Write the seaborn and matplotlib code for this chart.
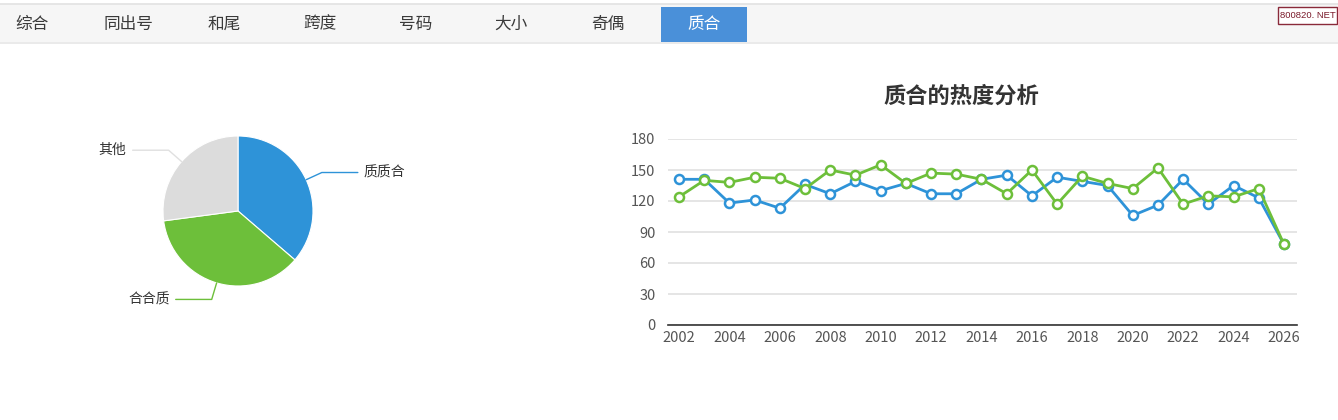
import numpy as np
import pandas as pd
import matplotlib
matplotlib.use("Agg")
import matplotlib.pyplot as plt
import seaborn as sns
from matplotlib.patches import Rectangle

sns.set_style("white")
plt.rcParams['font.family'] = ['Noto Sans CJK SC', 'DejaVu Sans']

# tabs across the top
tab_labels = ["综合", "同出号", "和尾", "跨度", "号码", "大小", "奇偶", "质合"]
active_tab = "质合"

# pie data (share in percent)
pie_labels = ["质质合", "合合质", "其他"]
pie_values = [36.3, 36.6, 27.1]

# line chart data
years = list(range(2002, 2027))
blue_vals = [141, 141, 118, 121, 113, 136, 127, 139, 130, 137, 127, 127, 141,
             145, 125, 143, 139, 135, 106, 116, 141, 117, 135, 123, 78]
green_vals = [124, 140, 138, 143, 142, 132, 150, 145, 155, 137, 147, 146, 141,
              127, 150, 117, 144, 137, 132, 152, 117, 125, 124, 132, 78]
y_ticks = [0, 30, 60, 90, 120, 150, 180]
x_ticks = list(range(2002, 2027, 2))
chart_title = "质合的热度分析"

BLUE = "#2e93d8"
GREEN = "#6dbf3a"
GREY = "#dcdcdc"

W, H = 1338, 420
fig = plt.figure(figsize=(W / 100, H / 100), dpi=100)


def fx(px):
    return px / W


def fy(py):
    return 1 - py / H


# tab bar
fig.patches.append(Rectangle((0, fy(42)), 1, fy(4) - fy(42), transform=fig.transFigure,
                             facecolor="#f6f6f6", edgecolor="none", zorder=0))
fig.lines.append(plt.Line2D([0, 1], [fy(3.5), fy(3.5)], transform=fig.transFigure,
                            color="#e2e2e2", lw=1.2))
fig.lines.append(plt.Line2D([0, 1], [fy(42.5), fy(42.5)], transform=fig.transFigure,
                            color="#e6e6e6", lw=1.2))
tab_x = [32, 128, 224, 320, 416, 511, 608, 704]
for lab, x in zip(tab_labels, tab_x):
    if lab == active_tab:
        fig.patches.append(Rectangle((fx(661), fy(42)), fx(747) - fx(661), fy(7) - fy(42),
                                     transform=fig.transFigure, facecolor="#4a90d9",
                                     edgecolor="none", zorder=1))
        fig.text(fx(x), fy(24), lab, color="white", fontsize=12, ha="center", va="center", zorder=2)
    else:
        fig.text(fx(x), fy(24), lab, color="#3a3a3a", fontsize=12, ha="center", va="center")

# watermark box
fig.patches.append(Rectangle((fx(1278), fy(24)), fx(1337) - fx(1278), fy(7) - fy(24),
                             transform=fig.transFigure, facecolor="white",
                             edgecolor="#8a2a3a", lw=1, zorder=3))
fig.text(fx(1307.5), fy(15.5), "800820. NET", color="#7a1a2a", fontsize=6.8, ha="center",
         va="center", family=["Liberation Sans", "DejaVu Sans"], zorder=4)

# pie
r_px = 75
cx, cy = 238, 211
pax = fig.add_axes([fx(cx - r_px), fy(cy + r_px), fx(2 * r_px), fy(cy - r_px) - fy(cy + r_px)])
wedges, _ = pax.pie(pie_values, colors=[BLUE, GREEN, GREY], startangle=90, counterclock=False,
                    radius=1, wedgeprops=dict(edgecolor="white", linewidth=0.8))
pax.set_xlim(-1, 1)
pax.set_ylim(-1, 1)
pax.set_aspect("equal")
pax.axis("off")

line_cols = [BLUE, GREEN, "#e0e0e0"]
for w, lab, lc in zip(wedges, pie_labels, line_cols):
    ang = np.deg2rad((w.theta1 + w.theta2) / 2)
    x0, y0 = np.cos(ang), np.sin(ang)
    x1, y1 = 1.23 * x0, 1.23 * y0
    side = 1 if x0 >= 0 else -1
    x2 = x1 + side * 0.48
    pax.plot([x0, x1, x2], [y0, y1, y1], color=lc, lw=1, clip_on=False)
    pax.text(x2 + side * 0.08, y1, lab, fontsize=10, color="#333333",
             ha="left" if side > 0 else "right", va="center", clip_on=False)

# line chart
df = pd.DataFrame({"year": years * 2,
                   "value": blue_vals + green_vals,
                   "series": ["质质合"] * len(years) + ["合合质"] * len(years)})

ax = fig.add_axes([fx(668), fy(325), fx(1297) - fx(668), fy(139) - fy(325)])
for name, col in [("质质合", BLUE), ("合合质", GREEN)]:
    sns.lineplot(data=df[df["series"] == name], x="year", y="value", ax=ax, color=col,
                 lw=2, marker="o", markersize=6.5, markerfacecolor="white",
                 markeredgecolor=col, markeredgewidth=1.8, zorder=3)

ax.set_xlim(2002 - 11 / 25.2, 2026 + 13 / 25.2)
ax.set_ylim(0, 180)
ax.set_yticks(y_ticks)
ax.set_xticks(x_ticks)
ax.grid(axis="y", color="#e3e3e3", lw=1.3)
ax.grid(axis="x", visible=False)
for s in ["top", "right", "left"]:
    ax.spines[s].set_visible(False)
ax.spines["bottom"].set_color("#333333")
ax.spines["bottom"].set_linewidth(1.2)
ax.tick_params(axis="both", length=0, labelsize=10.5, labelcolor="#555555")
ax.tick_params(axis="y", pad=9)
ax.tick_params(axis="x", pad=4)
ax.set_xlabel("")
ax.set_ylabel("")
fig.text(fx(961), fy(96), chart_title, fontsize=16, fontweight="bold", color="#333333",
         ha="center", va="center")

fig.savefig("out.png", dpi=100)
